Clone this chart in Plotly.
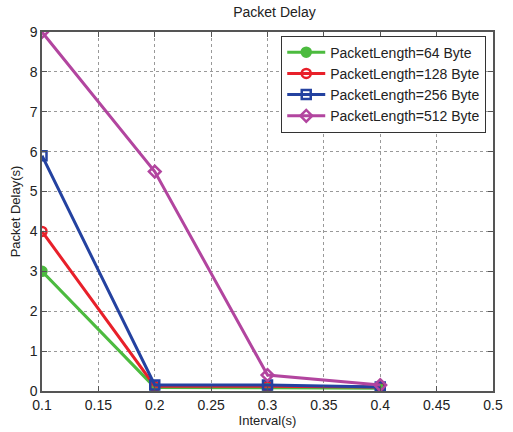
import plotly.graph_objects as go

x = [0.1, 0.2, 0.3, 0.4]
d64 = [3.0, 0.09, 0.08, 0.07]
d128 = [4.0, 0.12, 0.12, 0.1]
d256 = [5.9, 0.15, 0.15, 0.1]
d512 = [9.0, 5.5, 0.4, 0.15]
names = ["PacketLength=64 Byte", "PacketLength=128 Byte", "PacketLength=256 Byte", "PacketLength=512 Byte"]
colors = ["#4cbb3f", "#e8202a", "#2442a0", "#b2459f"]
symbols = ["circle", "circle-open", "square-open", "diamond-open"]
xticks = [0.1, 0.15, 0.2, 0.25, 0.3, 0.35, 0.4, 0.45, 0.5]
xticktext = ["0.1", "0.15", "0.2", "0.25", "0.3", "0.35", "0.4", "0.45", "0.5"]

fig = go.Figure()
for ys, n, c, s in zip([d64, d128, d256, d512], names, colors, symbols):
    fig.add_trace(go.Scatter(x=x, y=ys, name=n, mode="lines+markers",
                             line=dict(color=c, width=3),
                             marker=dict(symbol=s, size=9, color=c, line=dict(color=c, width=2.5))))

fig.update_layout(
    width=513, height=432,
    margin=dict(l=42, r=10, t=32, b=38),
    paper_bgcolor="white", plot_bgcolor="white",
    font=dict(family="Liberation Sans, Arial", size=14, color="#222"),
    title=dict(text="Packet Delay", x=0.535, xanchor="center", y=0.972, yanchor="middle",
               font=dict(size=14)),
    showlegend=True,
    legend=dict(x=0.985, xanchor="right", y=0.99, yanchor="top",
                bgcolor="white", bordercolor="#333", borderwidth=1,
                font=dict(size=14), tracegroupgap=0, itemwidth=38),
)
fig.update_xaxes(range=[0.1, 0.5], tickvals=xticks, ticktext=xticktext,
                 showgrid=True, gridcolor="#999", griddash="dot", gridwidth=1,
                 showline=True, linecolor="#555", linewidth=1.5, mirror="ticks",
                 ticks="inside", ticklen=5, tickcolor="#555", tickfont=dict(size=14),
                 title=dict(text="Interval(s)", font=dict(size=13), standoff=0),
                 zeroline=False)
fig.update_yaxes(range=[0, 9], dtick=1,
                 showgrid=True, gridcolor="#999", griddash="dot", gridwidth=1,
                 showline=True, linecolor="#555", linewidth=1.5, mirror="ticks",
                 ticks="inside", ticklen=5, tickcolor="#555", tickfont=dict(size=14),
                 title=dict(text="Packet Delay(s)", font=dict(size=13), standoff=6),
                 zeroline=False)

fig.write_html("out.html")
